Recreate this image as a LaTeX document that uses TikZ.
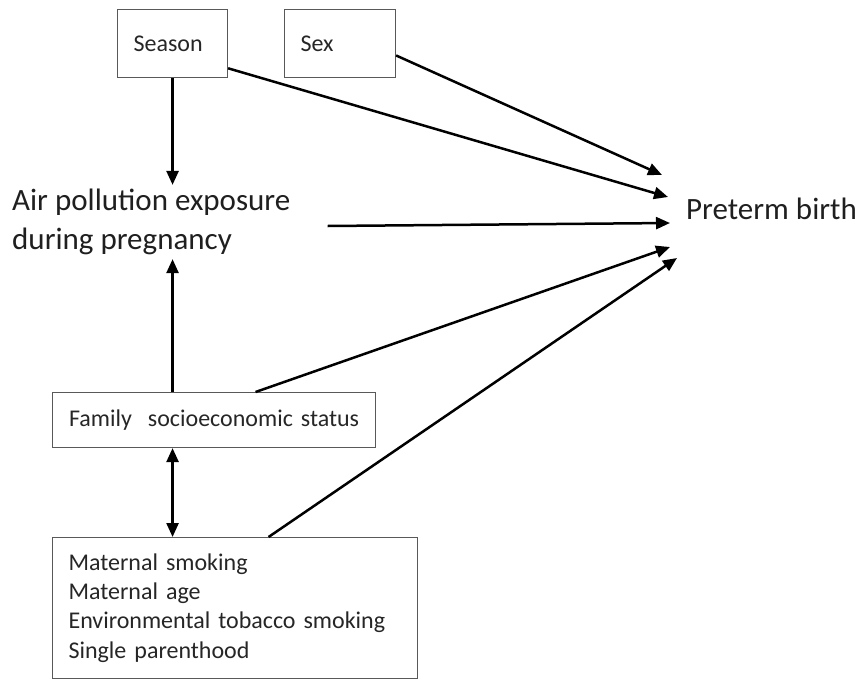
\documentclass[tikz,border=0pt]{standalone}
\usepackage{fontspec}
\setmainfont{Carlito}
\usetikzlibrary{arrows.meta, positioning, calc}

\begin{document}
\begin{tikzpicture}[
  x=1pt, y=-1pt,
  factor/.style={draw=black!65, line width=1.1pt, anchor=north west, align=left, inner xsep=16pt, inner ysep=0pt, text=black!85, font=\fontsize{24}{29.3}\selectfont},
  outcome/.style={anchor=west, align=left, inner sep=4pt, text=black!88, font=\fontsize{31}{39}\selectfont},
  rel/.style={-{Triangle[length=14pt, width=12pt]}, line width=2.5pt},
  biRel/.style={{Triangle[length=14pt, width=12pt]}-{Triangle[length=14pt, width=12pt]}, line width=2.5pt}
]
\useasboundingbox (0,0) rectangle (861,680);

\node[factor, text width=78pt, minimum height=68pt] (season) at (117,9) {Season};
\node[factor, text width=79pt, minimum height=68pt] (sex) at (284,9) {Sex};
\node[outcome] (airPollution) at (8,222) {Air pollution exposure\\during pregnancy};
\node[outcome] (pretermBirth) at (682,209) {Preterm birth};
\node[factor, text width=290pt, inner xsep=16.5pt, minimum height=55pt] (familySes) at (52,392) {\mbox{Family\ \ socioeconomic status}};
\node[factor, text width=333pt, minimum height=141pt] (maternal) at (52,537) {Maternal smoking\\Maternal age\\Environmental tobacco smoking\\Single parenthood};

\coordinate (tipSex) at (662,175);
\coordinate (tipSeason) at (668,197);
\coordinate (tipAir) at (670,223);
\coordinate (tipSes) at (670,247);
\coordinate (tipMaternal) at (677,258);

\draw[rel] (season.south) -- (season.south |- airPollution.north);
\draw[rel] (season.-24) -- (tipSeason);
\draw[rel] (sex.-12) -- (tipSex);
\draw[rel] ([xshift=33pt, yshift=-4pt]airPollution.east) -- (tipAir);
\draw[rel] (season.south |- familySes.north) -- (season.south |- airPollution.south);
\draw[rel] ([xshift=41.5pt]familySes.north) -- (tipSes);
\draw[biRel] (season.south |- familySes.south) -- (season.south |- maternal.north);
\draw[rel] ([xshift=33.5pt]maternal.north) -- (tipMaternal);
\end{tikzpicture}
\end{document}
